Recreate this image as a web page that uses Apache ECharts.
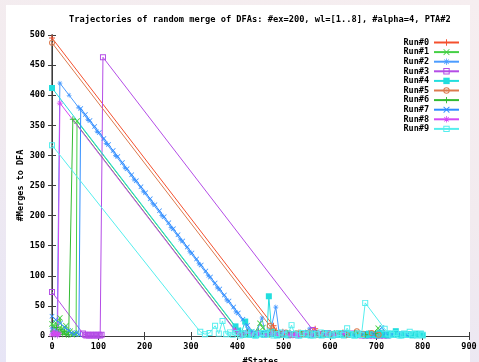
<!DOCTYPE html>
<html>
<head>
<meta charset="utf-8">
<script src="https://cdn.jsdelivr.net/npm/echarts@6/dist/echarts.min.js"></script>
<style>
  html, body { margin: 0; padding: 0; }
  body {
    width: 479px; height: 362px; overflow: hidden; position: relative;
    background: linear-gradient(195deg, #f6eef0 0%, #f2ebef 45%, #e7e5f6 100%);
  }
  #panel { position: absolute; left: 6px; top: 5px; width: 464px; height: 357px; background: #fff; }
  #chart { position: absolute; left: 0; top: 0; width: 479px; height: 362px; }
</style>
</head>
<body>
<div id="panel"></div>
<div id="chart"></div>
<script>
// Axis ranges and ticks
const xRange = [0, 900];
const xStep = 100;
const yRange = [0, 500];
const yStep = 50;

const chartTitle = 'Trajectories of random merge of DFAs: #ex=200, wl=[1..8], #alpha=4, PTA#2';
const xName = '#States';
const yName = '#Merges to DFA';
const runNames = ['Run#0', 'Run#1', 'Run#2', 'Run#3', 'Run#4', 'Run#5', 'Run#6', 'Run#7', 'Run#8', 'Run#9'];

// Each run: [#states, #merges] in visiting order
const run0 = [[0,495],[478,17],[484,9],[490,4],[498,7],[506,3],[514,5],[523,2],[533,6],[544,3],[556,5],[568,12],[576,4],[588,2],[600,5],[614,3],[628,6],[642,2],[656,4],[670,3],[684,5],[698,2]];
const run1 = [[0,20],[4,14],[8,22],[12,9],[17,30],[22,12],[26,6],[30,17],[34,4],[39,8],[44,2],[48,5],[52,3],[54,357],[402,9],[408,5],[416,2],[426,7],[436,3],[449,21],[455,14],[462,6],[472,3],[484,5],[496,2],[510,4],[526,3],[542,6],[560,2],[580,4],[600,3],[622,5],[646,2],[668,4],[690,3],[704,13],[712,5],[724,3]];
const run2 = [[0,12],[2,6],[5,3],[8,9],[11,2],[14,5],[17,420],[37,400],[57,380],[77,360],[97,340],[117,320],[137,300],[157,280],[177,260],[197,240],[217,220],[237,200],[257,180],[277,160],[297,140],[317,120],[337,100],[357,80],[377,60],[397,40],[417,20],[424,11],[432,6],[440,3],[453,30],[460,6],[470,3],[483,48],[490,7],[500,4],[512,2],[525,5],[540,3],[556,12],[566,4],[580,2],[596,5],[612,3],[630,6],[648,2],[666,4],[690,3]];
const run3 = [[0,73],[67,4],[71,2],[74,1],[77,2],[80,1],[83,2],[86,1],[89,2],[92,1],[95,2],[98,1],[101,2],[104,1],[107,2],[110,463],[563,10],[570,4],[582,2],[596,5],[612,3],[630,2],[648,4],[664,2],[668,1],[672,2],[676,1],[680,2],[684,1],[688,2],[692,1],[696,2],[700,1],[704,2],[708,1],[712,2],[716,1],[720,2],[724,1]];
const run4 = [[0,412],[396,16],[402,9],[408,4],[412,2],[417,24],[422,5],[428,2],[434,4],[440,1],[446,3],[452,5],[458,2],[464,4],[468,66],[474,8],[480,3],[486,1],[492,4],[498,2],[504,5],[510,1],[516,3],[522,2],[528,4],[534,1],[540,3],[546,5],[552,2],[558,1],[564,4],[570,2],[576,3],[582,1],[588,5],[594,2],[600,3],[606,1],[612,4],[618,2],[624,3],[630,1],[636,5],[642,2],[648,3],[654,1],[660,4],[666,2],[672,3],[678,1],[684,4],[690,2],[696,3],[702,1],[708,5],[714,2],[720,3],[726,1],[732,4],[738,2],[742,8],[748,3],[754,1],[760,4],[766,2],[772,3],[778,1],[784,4],[790,2],[796,3],[800,1]];
const run5 = [[0,487],[470,17],[477,9],[486,5],[495,3],[505,6],[515,2],[528,4],[541,3],[555,6],[570,2],[585,4],[600,3],[618,5],[636,2],[658,8],[672,3],[690,5],[705,2]];
const run6 = [[2,8],[6,3],[10,14],[14,6],[19,11],[23,3],[27,7],[31,2],[36,2],[45,360],[396,9],[403,4],[412,2],[422,6],[434,3],[446,8],[458,4],[470,2],[482,6],[494,3],[508,5],[522,2],[538,4],[554,3],[572,5],[590,2],[610,4],[632,3],[654,5],[676,2],[698,4]];
const run7 = [[0,33],[8,27],[18,21],[28,14],[36,9],[42,5],[48,3],[53,6],[58,2],[62,378],[72,368],[82,358],[92,348],[102,338],[112,328],[122,318],[132,308],[142,298],[152,288],[162,278],[172,268],[182,258],[192,248],[202,238],[212,228],[222,218],[232,208],[242,198],[252,188],[262,178],[272,168],[282,158],[292,148],[302,138],[312,128],[322,118],[332,108],[342,98],[352,88],[362,78],[372,68],[382,58],[392,48],[402,38],[412,28],[422,18],[432,8],[440,4],[448,2],[458,6],[470,3],[484,5],[498,2],[514,4],[530,3],[548,6],[566,2],[586,4],[606,3],[628,5],[650,2],[672,4],[694,3],[712,14],[720,5],[734,3],[750,4],[766,2]];
const run8 = [[0,2],[3,7],[6,3],[9,5],[12,1],[15,4],[17,387],[394,10],[401,5],[410,2],[420,6],[432,3],[446,5],[460,2],[474,4],[488,3],[500,6],[512,2],[520,1],[523,2],[526,1],[529,2],[532,1],[546,4],[560,2],[576,5],[592,3],[610,2],[630,4]];
const run9 = [[0,317],[320,7],[330,3],[340,5],[352,17],[360,4],[368,25],[376,3],[384,6],[390,2],[398,5],[406,1],[414,4],[422,2],[430,6],[438,1],[446,3],[454,5],[462,2],[470,4],[478,1],[486,3],[494,6],[502,2],[510,4],[517,18],[524,3],[532,1],[540,5],[548,2],[556,4],[564,1],[572,3],[580,6],[588,2],[596,4],[604,1],[612,3],[620,5],[628,2],[637,13],[644,3],[652,1],[660,4],[668,2],[676,55],[718,12],[726,4],[734,2],[742,5],[750,1],[758,3],[766,2],[772,7],[780,3],[788,1],[796,4],[800,2]];

const runs = [run0, run1, run2, run3, run4, run5, run6, run7, run8, run9];

// gnuplot-like point shapes
const PLUS = 'path://M4.25,0H5.75V4.25H10V5.75H5.75V10H4.25V5.75H0V4.25H4.25Z';
const CROSS = 'path://M0,1L1,0L5,4L9,0L10,1L6,5L10,9L9,10L5,6L1,10L0,9L4,5Z';
const STAR = 'path://M4.4,0H5.6V4.4H10V5.6H5.6V10H4.4V5.6H0V4.4H4.4Z M1,1.8L1.8,1L5,4.2L8.2,1L9,1.8L5.8,5L9,8.2L8.2,9L5,5.8L1.8,9L1,8.2L4.2,5Z';
const OPEN_SQ = 'path://M0,0H10V10H0Z M1.6,1.6V8.4H8.4V1.6Z';
const FILL_SQ = 'path://M0,0H10V10H0Z';
const RING = 'path://M5,0A5,5 0 1,1 5,10A5,5 0 1,1 5,0Z M5,1.6A3.4,3.4 0 1,0 5,8.4A3.4,3.4 0 1,0 5,1.6Z M4,4H6V6H4Z';

const colors = ['#f4502e', '#45d045', '#4b9cff', '#b44ce6', '#22dede', '#dc7a4e', '#33bb33', '#2f8cff', '#d448f4', '#55eeee'];
const symbols = [PLUS, CROSS, STAR, OPEN_SQ, FILL_SQ, RING, PLUS, CROSS, STAR, OPEN_SQ];
const sizes = [6, 6, 5, 6, 6, 6, 6, 5, 6, 6];

const monoFont = '"DejaVu Sans Mono", "Liberation Mono", monospace';

const chart = echarts.init(document.getElementById('chart'), null, { renderer: 'canvas' });

const frameAxis = {
  type: 'value',
  axisLine: { show: true, lineStyle: { color: '#3c3c3c', width: 1 } },
  axisTick: { show: true, inside: true, length: 4, lineStyle: { color: '#3c3c3c' } },
  splitLine: { show: false }
};
const labelFont = { fontFamily: monoFont, fontSize: 8.5, fontWeight: 'bold', color: '#000' };

const option = {
  animation: false,
  backgroundColor: 'transparent',
  title: {
    text: chartTitle,
    left: 69, top: 15, padding: 0,
    textStyle: { fontFamily: monoFont, fontSize: 8.7, fontWeight: 'bold', color: '#000' }
  },
  legend: {
    orient: 'vertical',
    right: 19, top: 38,
    align: 'right',
    itemWidth: 25, itemHeight: 8, itemGap: 0.6,
    padding: 0,
    data: runNames,
    textStyle: Object.assign({ lineHeight: 9 }, labelFont)
  },
  grid: { left: 52, top: 35, right: 10, bottom: 26, containLabel: false, outerBoundsMode: 'none' },
  xAxis: [
    Object.assign({}, frameAxis, {
      position: 'bottom', min: xRange[0], max: xRange[1], interval: xStep,
      name: xName, nameLocation: 'middle', nameGap: 21, nameMoveOverlap: false,
      nameTextStyle: labelFont,
      axisLabel: Object.assign({ margin: 6 }, labelFont)
    }),
    Object.assign({}, frameAxis, {
      position: 'top', min: xRange[0], max: xRange[1], interval: xStep,
      axisLabel: { show: false }
    })
  ],
  yAxis: [
    Object.assign({}, frameAxis, {
      position: 'left', min: yRange[0], max: yRange[1], interval: yStep,
      axisLine: { show: true, lineStyle: { color: '#8a8a8a', width: 2 } },
      name: yName, nameLocation: 'middle', nameGap: 27, nameRotate: 90, nameMoveOverlap: false,
      nameTextStyle: labelFont,
      axisLabel: Object.assign({ margin: 7 }, labelFont)
    }),
    Object.assign({}, frameAxis, {
      position: 'right', min: yRange[0], max: yRange[1], interval: yStep,
      axisLabel: { show: false }
    })
  ],
  series: runs.map((pts, i) => ({
    name: runNames[i],
    type: 'line',
    xAxisIndex: 0, yAxisIndex: 0,
    data: pts,
    clip: false,
    symbol: symbols[i],
    symbolSize: sizes[i],
    symbolKeepAspect: true,
    showAllSymbol: true,
    lineStyle: { color: colors[i], width: 1 },
    itemStyle: { color: colors[i] },
    emphasis: { disabled: true }
  }))
};

chart.setOption(option);
</script>
</body>
</html>
